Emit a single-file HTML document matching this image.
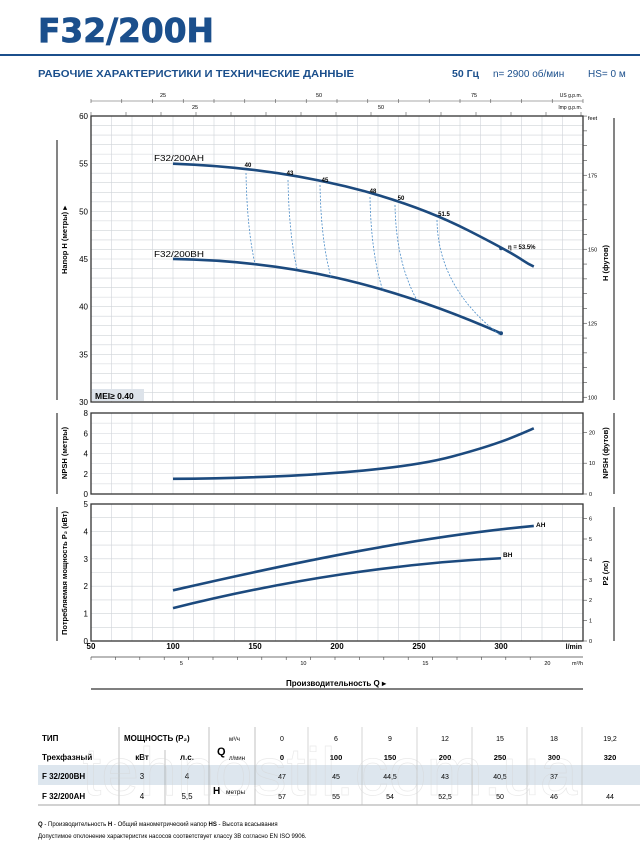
<!DOCTYPE html>
<html><head><meta charset="utf-8"><style>
body{margin:0;background:#fff}
svg{display:block;font-family:"Liberation Sans",sans-serif}
</style></head><body>
<svg id="s" width="640" height="844" viewBox="0 0 640 844" xmlns="http://www.w3.org/2000/svg">
<text x="38" y="42" font-size="33" font-weight="bold" fill="#1b4f8c" stroke="#1b4f8c" stroke-width="0.8" font-family="DejaVu Sans, sans-serif" textLength="176" lengthAdjust="spacingAndGlyphs">F32/200H</text>
<rect x="0" y="54" width="640" height="2" fill="#1b4f8c"/>
<text x="38" y="77" font-size="10.5" font-weight="bold" fill="#1b4f8c" textLength="316" lengthAdjust="spacingAndGlyphs">РАБОЧИЕ ХАРАКТЕРИСТИКИ И ТЕХНИЧЕСКИЕ ДАННЫЕ</text>
<text x="452" y="77" font-size="10.5" font-weight="bold" fill="#1b4f8c">50 Гц</text>
<text x="493" y="77" font-size="10" fill="#1b4f8c">n= 2900 об/мин</text>
<text x="588" y="77" font-size="10" fill="#1b4f8c">HS= 0 м</text>
<g id="g"></g>
</svg>
<script>
const g=document.getElementById('g');let h='';
const X=q=>91+(q-50)*1.64;
const L=(x1,y1,x2,y2,c,w,extra)=>h+=`<line x1="${x1}" y1="${y1}" x2="${x2}" y2="${y2}" stroke="${c}" stroke-width="${w}" ${extra||''}/>`;
const T=(x,y,t,s,a,extra)=>h+=`<text x="${x}" y="${y}" font-size="${s}" text-anchor="${a||'start'}" ${extra||''}>${t}</text>`;
function grid(top,bot,n){
 for(let q=50;q<=350.1;q+=12.5)L(X(q),top,X(q),bot,'#cfd3d8',0.6);
 for(let i=0;i<=n;i++){const y=top+(bot-top)*i/n;L(91,y,583,y,'#cfd3d8',0.6);}
 h+=`<rect x="91" y="${top}" width="492" height="${bot-top}" fill="none" stroke="#333" stroke-width="1.3"/>`;
}
// main
grid(116,402,30);
// top axes
L(91,101,583,101,'#555',0.6);
for(let i=0;i<=16;i++){const x=91+i*30.75;L(x,99,x,103,'#555',0.6);}
T(163,97,'25',5.5,'middle');T(319,97,'50',5.5,'middle');T(474,97,'75',5.5,'middle');
T(582,97,'US g.p.m.',5,'end');T(582,109,'Imp g.p.m.',5,'end');
for(let i=0;i<=14;i++)L(91+i*35,112,91+i*35,116,'#555',0.6);
T(195,109,'25',5.5,'middle');T(381,109,'50',5.5,'middle');
for(let v=30;v<=60;v+=5)T(88,116+(60-v)*9.53+3,v,8,'end');
for(let f=100;f<=195;f+=5){const y=402-(f-98.4)*2.96;if(y>=116){L(583,y,587,y,'#444',0.6);}}
[100,125,150,175].forEach(f=>T(588,402-(f-98.4)*2.96+2,f,5.5));
T(588,120,'feet',5.5);
L(57,140,57,400,'#333',1.2);L(614,118,614,400,'#333',1.2);
T(0,0,'Напор H (метры) ▸',7.5,'middle','font-weight="bold" transform="translate(67,240) rotate(-90)"');
T(0,0,'H (футов)',7.5,'middle','font-weight="bold" transform="translate(608,263) rotate(-90)"');
h+=`<rect x="92" y="389" width="52" height="12" fill="#dde3ea"/>`;T(95,399,'MEI≥ 0.40',8.5,'start','font-weight="bold"');
const Y=H=>116+(60-H)*9.53;
h+=`<path d="M${X(100)},${Y(55)} C${X(180)},${Y(54.5)} ${X(240)},${Y(51.5)} ${X(280)},${Y(48)} S${X(310)},${Y(45)} ${X(320)},${Y(44.2)}" fill="none" stroke="#1c4a7e" stroke-width="2.6"/>`;
h+=`<path d="M${X(100)},${Y(45)} C${X(170)},${Y(44.8)} ${X(230)},${Y(42.5)} ${X(300)},${Y(37.2)}" fill="none" stroke="#1c4a7e" stroke-width="2.6"/>`;
h+=`<circle cx="${X(300)}" cy="${Y(37.2)}" r="2" fill="#1c4a7e"/><circle cx="${X(300)}" cy="${Y(46.1)}" r="1.8" fill="#1c4a7e"/>`;
[[246,173,255,264],[288,180,297,269],[320,185,331,277],[370,197,383,291],[395,205,418,302],[437,220,500,335]].forEach(d=>{
 h+=`<path d="M${d[0]},${d[1]} Q${d[0]+1},${(d[1]+d[3])/2+10} ${d[2]},${d[3]}" fill="none" stroke="#4a8cc8" stroke-width="0.8" stroke-dasharray="2,1.5"/>`;});
[[248,167,'40'],[290,175,'43'],[325,182,'45'],[373,193,'48'],[401,200,'50'],[444,216,'51.5']].forEach(a=>T(a[0],a[1],a[2],6,'middle','font-weight="bold"'));
T(508,249,'η = 53.5%',6,'start','font-weight="bold"');
T(154,161,'F32/200AH',8,'start','textLength="50" lengthAdjust="spacingAndGlyphs"');
T(154,257,'F32/200BH',8,'start','textLength="50" lengthAdjust="spacingAndGlyphs"');
// NPSH
grid(413,494,8);
for(let v=0;v<=8;v+=2)T(88,494-v*10.1+3,v,8,'end');
[0,10,20].forEach(f=>{const y=494-f*3.08;L(583,y,587,y,'#444',0.6);T(589,y+2,f,5.5);});
L(57,413,57,494,'#333',1.2);L(614,413,614,494,'#333',1.2);
T(0,0,'NPSH (метры)',7.5,'middle','font-weight="bold" transform="translate(67,453) rotate(-90)"');
T(0,0,'NPSH (футов)',7.5,'middle','font-weight="bold" transform="translate(608,453) rotate(-90)"');
const YN=v=>494-v*10.1;
h+=`<path d="M${X(100)},${YN(1.5)} C${X(180)},${YN(1.6)} ${X(240)},${YN(2.4)} ${X(270)},${YN(3.7)} S${X(310)},${YN(5.8)} ${X(320)},${YN(6.5)}" fill="none" stroke="#1c4a7e" stroke-width="2.6"/>`;
// power
grid(504,641,10);
for(let v=0;v<=5;v++)T(88,641-v*27.4+3,v,8,'end');
for(let p=0;p<=6;p++){const y=641-p*20.4;L(583,y,587,y,'#444',0.6);T(589,y+2,p,5.5);}
L(57,507,57,641,'#333',1.2);L(614,507,614,641,'#333',1.2);
T(0,0,'Потребляемая мощность P₂ (кВт)',7.5,'middle','font-weight="bold" transform="translate(67,573) rotate(-90)"');
T(0,0,'P2 (лс)',7.5,'middle','font-weight="bold" transform="translate(608,573) rotate(-90)"');
const YP=v=>641-v*27.4;
h+=`<path d="M${X(100)},${YP(1.85)} C${X(180)},${YP(2.95)} ${X(250)},${YP(3.8)} ${X(320)},${YP(4.2)}" fill="none" stroke="#1c4a7e" stroke-width="2.6"/>`;
h+=`<path d="M${X(100)},${YP(1.2)} C${X(170)},${YP(2.25)} ${X(240)},${YP(2.85)} ${X(300)},${YP(3.02)}" fill="none" stroke="#1c4a7e" stroke-width="2.6"/>`;
T(536,527,'AH',6.5,'start','font-weight="bold"');T(503,557,'BH',6.5,'start','font-weight="bold"');
[50,100,150,200,250,300].forEach(q=>T(X(q),649,q,8,'middle','font-weight="bold"'));
T(582,649,'l/min',7,'end','font-weight="bold"');
L(91,657,583,657,'#444',0.7);
for(let m=2;m<=20;m++){const x=91+(m-2)*24.4+ 0;L(x,657,x,660,'#444',0.6);}
[[5,'5'],[10,'10'],[15,'15'],[20,'20']].forEach(a=>T(91+(a[0]-1.5)*24.4+5,665,a[1],5.5,'middle'));
T(583,665,'m³/h',5.5,'end');
T(336,686,'Производительность Q ▸',8,'middle','font-weight="bold"');
L(91,689,583,689,'#333',1.2);
// table
h+=`<rect x="38" y="765" width="602" height="20" fill="#dde6ee"/>`;
L(38,805,640,805,'#888',0.8);
[119,209,255].forEach(x=>L(x,727,x,805,'#999',0.6));
L(165,750,165,805,'#999',0.6);
[308,362,417,472,527,582].forEach(x=>L(x,727,x,805,'#bbb',0.6));
T(42,741,'ТИП',8,'start','font-weight="bold"');T(42,760,'Трехфазный',8,'start','font-weight="bold"');
T(124,741,'МОЩНОСТЬ (P₂)',8,'start','font-weight="bold"');
T(142,760,'кВт',8,'middle','font-weight="bold"');T(187,760,'л.с.',8,'middle','font-weight="bold"');
T(217,755,'Q',11,'start','font-weight="bold"');T(229,741,'м³/ч',6,'start');T(229,760,'л/мин',6,'start');
T(42,779,'F 32/200BH',8,'start','font-weight="bold"');T(42,799,'F 32/200AH',8,'start','font-weight="bold"');
T(142,779,'3',8,'middle');T(187,779,'4',8,'middle');T(142,799,'4',8,'middle');T(187,799,'5,5',8,'middle');
T(213,794,'H',10,'start','font-weight="bold"');T(226,794,'метры',6.5,'start');
const cx=[282,336,390,445,500,554,610];
['0','6','9','12','15','18','19,2'].forEach((v,i)=>T(cx[i],741,v,7,'middle'));
['0','100','150','200','250','300','320'].forEach((v,i)=>T(cx[i],760,v,7.5,'middle','font-weight="bold"'));
['47','45','44,5','43','40,5','37',''].forEach((v,i)=>T(cx[i],779,v,7,'middle'));
['57','55','54','52,5','50','46','44'].forEach((v,i)=>T(cx[i],799,v,7,'middle'));
T(38,826,'<tspan font-weight="bold">Q</tspan> - Производительность   <tspan font-weight="bold">H</tspan> - Общий манометрический напор   <tspan font-weight="bold">HS</tspan> - Высота всасывания',6);
T(38,838,'Допустимое отклонение характеристик насосов соответствует классу 3B согласно EN ISO 9906.',6);
h+=`<text x="330" y="795" font-size="68" text-anchor="middle" fill="none" stroke="#d4d4d4" stroke-width="0.7" opacity="0.5">tehnostil.com.ua</text>`;
g.innerHTML=h;
</script>
</body></html>
